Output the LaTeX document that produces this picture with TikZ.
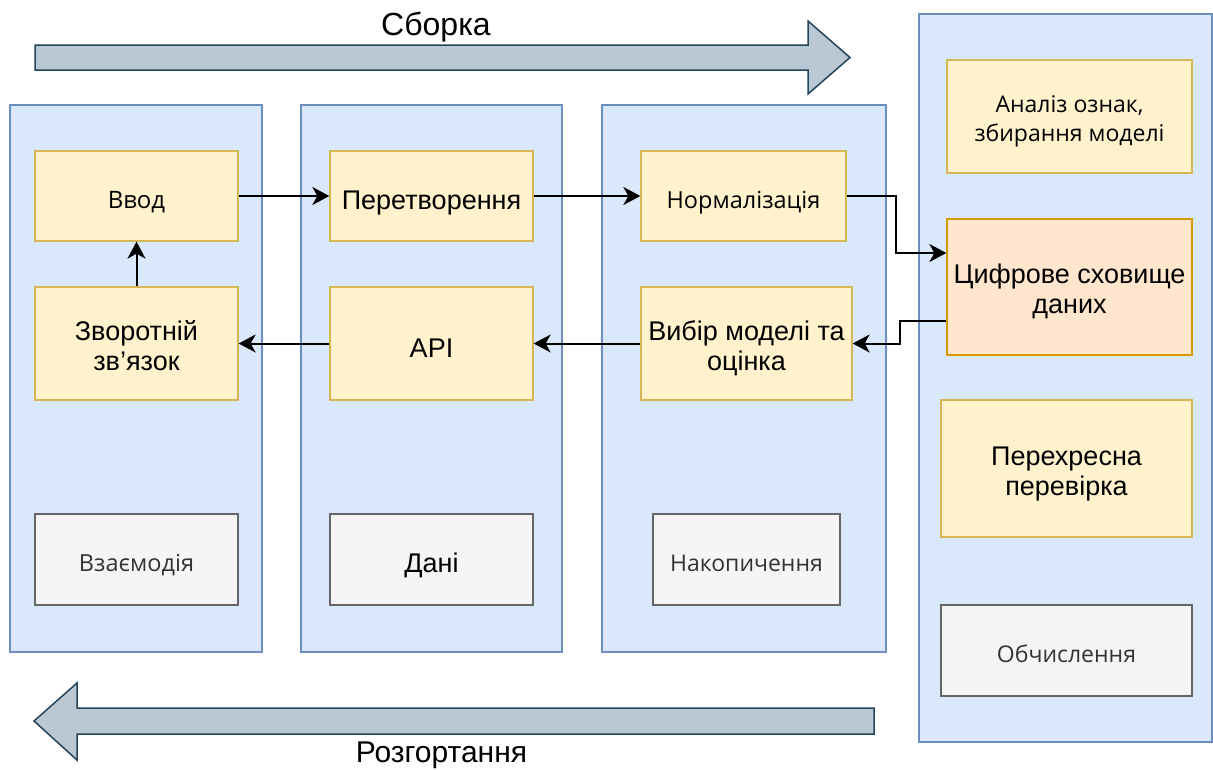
\documentclass[tikz,border=0pt]{standalone}
\usepackage{fontspec}
\setmainfont{Liberation Sans}
\newfontfamily\osans{Open Sans}
\usetikzlibrary{arrows.meta}
\definecolor{colfill}{HTML}{DAE8FC}
\definecolor{coldraw}{HTML}{6C8EBF}
\definecolor{yfill}{HTML}{FFF2CC}
\definecolor{ydraw}{HTML}{D6B656}
\definecolor{ofill}{HTML}{FFE6CC}
\definecolor{odraw}{HTML}{D79B00}
\definecolor{gfill}{HTML}{F5F5F5}
\definecolor{gdraw}{HTML}{666666}
\definecolor{gtext}{HTML}{333333}
\definecolor{afill}{HTML}{BAC8D3}
\definecolor{adraw}{HTML}{23445D}
\newcommand{\fs}[2]{\fontsize{#1}{#2}\selectfont}
\tikzset{
  colbox/.style={draw=coldraw, fill=colfill, line width=1.3pt, inner sep=0pt},
  ybox/.style={draw=ydraw, fill=yfill, line width=1.3pt, align=center, inner sep=0pt, text depth=0pt},
  obox/.style={draw=odraw, fill=ofill, line width=1.3pt, align=center, inner sep=0pt, text depth=0pt},
  gbox/.style={draw=gdraw, fill=gfill, line width=1.3pt, align=center, inner sep=0pt, text=gtext, text depth=0pt},
  conn/.style={draw=black, line width=2pt, -{Stealth[length=17pt,width=18pt,inset=5pt]}},
  bigarrow/.style={draw=adraw, fill=afill, line width=1.5pt, line join=miter},
  lbl/.style={inner sep=0pt, text depth=0pt}
}
\begin{document}
\begin{tikzpicture}[x=1pt,y=-1pt]
\useasboundingbox (0,0) rectangle (1213,769);
% columns
\node[colbox, minimum width=252pt, minimum height=547pt] (c1) at (136,378.5) {};
\node[colbox, minimum width=261pt, minimum height=547pt] (c2) at (431.5,378.5) {};
\node[colbox, minimum width=284pt, minimum height=547pt] (c3) at (744,378.5) {};
\node[colbox, minimum width=293pt, minimum height=728pt] (c4) at (1065.5,378) {};
% big arrows
\path[bigarrow] (35,45) -- (808,45) -- (808,21) -- (850,57.5) -- (808,94) -- (808,70) -- (35,70) -- cycle;
\path[bigarrow] (874,708) -- (77,708) -- (77,683) -- (34,721) -- (77,760) -- (77,734) -- (874,734) -- cycle;
\node[lbl, font=\fs{32}{38}, text height=22.9pt] (lsb) at (436,24) {Сборка};
\node[lbl, font=\fs{30}{36}, text height=21.5pt] (lrz) at (441.5,752) {Розгортання};
% inner boxes
\node[ybox, minimum width=203pt, minimum height=90pt, font=\osans\fs{24}{28}, text height=25.1pt] (vvod) at (136.5,196) {Ввод};
\node[ybox, minimum width=203pt, minimum height=90pt, font=\fs{27}{30}, text height=27.3pt] (per) at (431.5,196) {Перетворення};
\node[ybox, minimum width=205pt, minimum height=90pt, font=\osans\fs{23.5}{28}, text height=24.8pt] (norm) at (743.5,196) {Нормалізація};
\node[ybox, minimum width=203pt, minimum height=113pt, font=\fs{27}{30}, text height=53.3pt] (zvor) at (136.5,343.5) {Зворотній\\зв'язок};
\node[ybox, minimum width=203pt, minimum height=113pt, font=\fs{27}{30}, text height=27.3pt] (api) at (431.5,343.5) {API};
\node[ybox, minimum width=211pt, minimum height=113pt, font=\fs{27}{30}, text height=53.3pt] (vybir) at (746.5,343.5) {Вибір моделі та\\оцінка};
\node[gbox, minimum width=203pt, minimum height=91pt, font=\osans\fs{23.5}{28}, text height=24.8pt] (vzaem) at (136.5,559.5) {Взаємодія};
\node[gbox, minimum width=203pt, minimum height=91pt, font=\fs{27}{30}, text height=26pt, text=black] (dani) at (431.5,559.5) {Дані};
\node[gbox, minimum width=187pt, minimum height=91pt, font=\osans\fs{23}{28}, text height=24.4pt] (nakop) at (746.5,559.5) {Накопичення};
\node[ybox, minimum width=245pt, minimum height=113pt, font=\osans\fs{23}{29}, text height=49.4pt] (analiz) at (1069.5,116.5) {Аналіз ознак,\\збирання моделі};
\node[obox, minimum width=245pt, minimum height=136pt, font=\fs{27}{30}, text height=53.3pt] (tsyfr) at (1069.5,287) {Цифрове сховище\\даних};
\node[ybox, minimum width=251pt, minimum height=137pt, font=\fs{27}{30}, text height=53.3pt] (perekh) at (1066.5,468.5) {Перехресна\\перевірка};
\node[gbox, minimum width=251pt, minimum height=91pt, font=\osans\fs{23}{28}, text height=24.3pt] (obch) at (1066.5,650.5) {Обчислення};
% connectors
\draw[conn] (vvod) -- (per);
\draw[conn] (per) -- (norm);
\draw[conn] (zvor) -- (vvod);
\draw[conn] (api) -- (zvor);
\draw[conn] (vybir) -- (api);
\coordinate (n1) at (896,196);
\coordinate (n2) at (896,253);
\draw[conn] (norm.east) -- (n1) -- (n2) -- (n2 -| tsyfr.west);
\coordinate (r1) at (900,321);
\coordinate (r2) at (900,343.5);
\draw[conn] (r1 -| tsyfr.west) -- (r1) -- (r2) -- (vybir.east);
\end{tikzpicture}
\end{document}
